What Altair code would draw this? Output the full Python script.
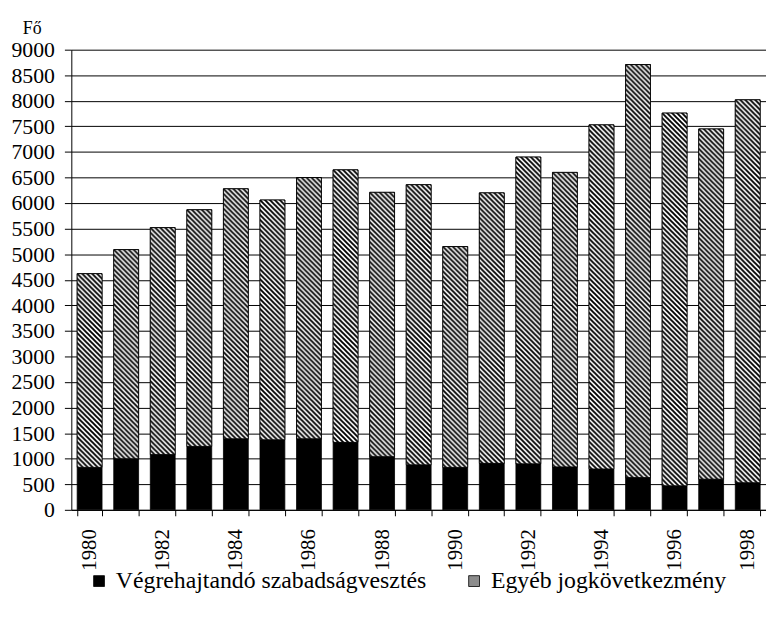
import altair as alt
import pandas as pd
import base64

years = ["1980", "1981", "1982", "1983", "1984", "1985", "1986", "1987", "1988", "1989",
         "1990", "1991", "1992", "1993", "1994", "1995", "1996", "1997", "1998"]
vegrehajtando = [830, 1000, 1080, 1240, 1390, 1370, 1390, 1320, 1040, 880,
                 830, 910, 900, 840, 800, 630, 470, 600, 530]
egyeb = [3790, 4090, 4440, 4630, 4890, 4690, 5110, 5330, 5170, 5480,
         4320, 5290, 6000, 5760, 6730, 8080, 7290, 6850, 7490]
series = ["Végrehajtandó szabadságvesztés", "Egyéb jogkövetkezmény"]
y_ticks = list(range(0, 9001, 500))

rows = []
for i, y in enumerate(years):
    rows.append({"ev": y, "sorozat": series[0], "fo": vegrehajtando[i], "rend": 0})
    rows.append({"ev": y, "sorozat": series[1], "fo": egyeb[i], "rend": 1})
df = pd.DataFrame(rows)

FONT = "Liberation Serif"

# diagonal hatch texture (style only)
hatch_svg = (
    '<svg xmlns="http://www.w3.org/2000/svg" width="100%" height="100%">'
    '<defs><pattern id="h" width="5" height="5" patternUnits="userSpaceOnUse">'
    '<rect width="5" height="5" fill="white"/>'
    '<path d="M0,0 L5,5 M-2,3 L2,7 M3,-2 L7,2" stroke="black" stroke-width="1.9"/>'
    '</pattern></defs><rect width="100%" height="100%" fill="url(#h)"/></svg>'
)
HATCH = "data:image/svg+xml;base64," + base64.b64encode(hatch_svg.encode()).decode()

x_axis = alt.Axis(title=None, labelAngle=-90, tickBand="extent",
                  labelExpr="toNumber(datum.value) % 2 == 0 ? datum.label : ''",
                  labelFont=FONT, labelFontSize=21, labelColor="black",
                  tickColor="black", tickSize=6, labelPadding=13,
                  domainColor="black", grid=False)
y_axis = alt.Axis(title=None, values=y_ticks, format="d", labelFont=FONT,
                  labelFontSize=22, labelColor="black", tickColor="black",
                  tickSize=7, labelPadding=10, domainColor="black",
                  gridColor="black", gridWidth=1, gridOpacity=1)
x_scale = alt.Scale(paddingInner=0.32, paddingOuter=0.16)
y_scale = alt.Scale(domain=[0, 9000], nice=False)

bars = alt.Chart(df).mark_bar(stroke="black", strokeWidth=0.8).encode(
    x=alt.X("ev:N", sort=years, scale=x_scale, axis=x_axis),
    y=alt.Y("fo:Q", stack="zero", scale=y_scale, axis=y_axis),
    color=alt.Color("sorozat:N",
                    scale=alt.Scale(domain=series, range=["black", "#8c8c8c"]),
                    legend=alt.Legend(title=None, orient="none", direction="horizontal",
                                      legendX=16, legendY=525,
                                      symbolType="square", symbolSize=120,
                                      symbolStrokeColor="black", symbolStrokeWidth=0.8,
                                      labelFont=FONT, labelFontSize=24, labelColor="black",
                                      labelLimit=0, columnPadding=36, labelOffset=5)),
    order=alt.Order("rend:Q"),
)

stacked = alt.Chart(df).transform_stack(
    stack="fo", groupby=["ev"], as_=["y0", "y1"],
    sort=[alt.SortField("rend", order="ascending")]
).transform_filter(alt.datum.rend == 1)

texture = stacked.mark_image(aspect=False).encode(
    x=alt.X("ev:N", sort=years, scale=x_scale, axis=x_axis),
    y=alt.Y("y1:Q", scale=y_scale, axis=y_axis),
    y2="y0:Q",
    url=alt.value(HATCH),
)

outline = stacked.mark_bar(fillOpacity=0, stroke="black", strokeWidth=0.8).encode(
    x=alt.X("ev:N", sort=years, scale=x_scale, axis=x_axis),
    y=alt.Y("y1:Q", scale=y_scale, axis=y_axis),
    y2="y0:Q",
)

chart = alt.layer(bars, texture, outline).properties(
    width=702,
    height=465,
    padding={"left": 3, "top": 9, "right": 0, "bottom": 5},
    title=alt.TitleParams(text="Fő", anchor="start", frame="bounds", dx=12,
                          font=FONT, fontSize=18, fontWeight="normal", color="black",
                          offset=1),
).configure_view(stroke=None).configure_legend(
    labelFont=FONT, labelFontSize=24, labelColor="black", labelLimit=0
).configure_axis(labelFont=FONT, labelColor="black")

chart.save("out.html", embed_options={"renderer": "svg", "actions": False})
